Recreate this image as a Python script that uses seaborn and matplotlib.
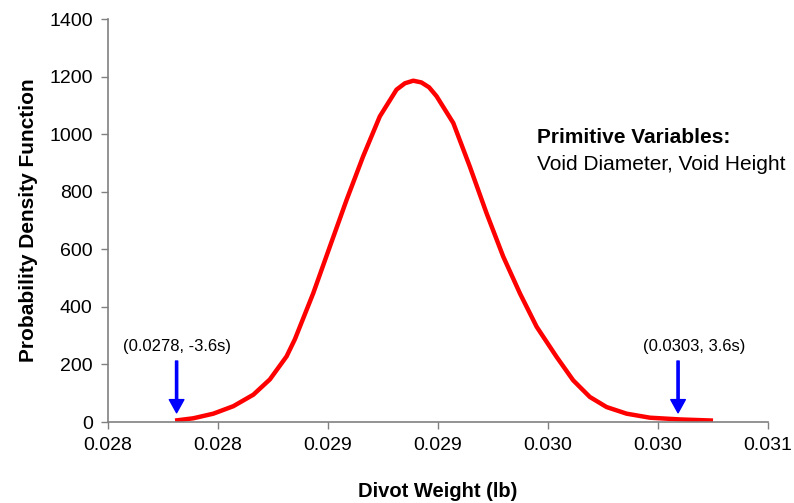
import matplotlib
matplotlib.use("Agg")
import matplotlib.pyplot as plt
import seaborn as sns
import pandas as pd

# Values
divot_weight = [0.027805, 0.027888, 0.027979, 0.028070, 0.028161, 0.028236,
                0.028312, 0.028350, 0.028433, 0.028509, 0.028585, 0.028660,
                0.028736, 0.028812, 0.028850, 0.028888, 0.028925, 0.028960,
                0.028994, 0.029070, 0.029145, 0.029221, 0.029297, 0.029373,
                0.029449, 0.029540, 0.029615, 0.029691, 0.029767, 0.029858,
                0.029964, 0.030100, 0.030251]
pdf_value = [5, 13, 29, 55, 95, 148,
             228, 288, 447, 610, 772, 923,
             1062, 1155, 1177, 1186, 1180, 1163,
             1132, 1039, 888, 726, 575, 447,
             331, 226, 145, 87, 52, 29,
             15, 9, 5]

x_ticks = [0.0275, 0.0280, 0.0285, 0.0290, 0.0295, 0.0300, 0.0305]
x_tick_labels = ["0.028", "0.028", "0.029", "0.029", "0.030", "0.030", "0.031"]
y_ticks = [0, 200, 400, 600, 800, 1000, 1200, 1400]

arrow_x = [0.027812, 0.030092]
label_x = [0.027815, 0.030165]
arrow_labels = ["(0.0278, -3.6s)", "(0.0303, 3.6s)"]

df = pd.DataFrame({"weight": divot_weight, "pdf": pdf_value})

sns.set_style("ticks")
plt.rcParams["font.family"] = ["Liberation Sans", "DejaVu Sans"]
plt.rcParams["text.color"] = "black"
plt.rcParams["axes.labelcolor"] = "black"

fig = plt.figure(figsize=(7.94, 5.03), dpi=100)
ax = fig.add_axes([0.136, 0.161, 0.831, 0.801])

sns.lineplot(data=df, x="weight", y="pdf", color="#ff0000", linewidth=3.2,
             solid_joinstyle="round", solid_capstyle="butt", ax=ax)

ax.set_xlim(0.0275, 0.0305)
ax.set_ylim(0, 1400)
ax.set_xticks(x_ticks)
ax.set_xticklabels(x_tick_labels)
ax.set_yticks(y_ticks)
ax.tick_params(axis="both", labelsize=14, colors="#808080", labelcolor="black",
               length=5, width=1, direction="out")
ax.tick_params(axis="y", pad=6)
ax.tick_params(axis="x", pad=6)
for side in ["top", "right"]:
    ax.spines[side].set_visible(False)
for side in ["left", "bottom"]:
    ax.spines[side].set_color("#808080")
    ax.spines[side].set_linewidth(1.2)

ax.set_xlabel("Divot Weight (lb)", fontsize=14.5, fontweight="bold", labelpad=20)
ax.set_ylabel("Probability Density Function", fontsize=15, fontweight="bold", labelpad=8)

# Arrows with labels at +-3.6 sigma
for xv, lx, lab in zip(arrow_x, label_x, arrow_labels):
    ax.annotate("", xy=(xv, 32), xytext=(xv, 212),
                arrowprops=dict(facecolor="#0000ff", edgecolor="#0000ff", width=1.6,
                                headwidth=10.5, headlength=9.5))
    ax.text(lx, 262, lab, fontsize=12, ha="center", va="center")

ax.text(0.02945, 971, "Primitive Variables:", fontsize=15, fontweight="bold",
        ha="left", va="baseline")
ax.text(0.02945, 877, "Void Diameter, Void Height", fontsize=15,
        ha="left", va="baseline")

fig.savefig("out.png", dpi=100)
